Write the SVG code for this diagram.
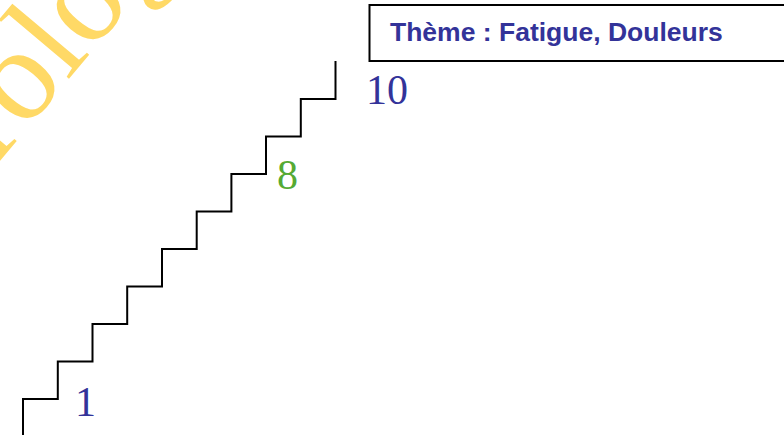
<svg xmlns="http://www.w3.org/2000/svg" width="784" height="435" viewBox="0 0 784 435">
  <style>
    .num { font-family: "Liberation Serif", "Times New Roman", serif; font-size: 42px; }
    .blue { fill: #333399; }
    .green { fill: #55AA33; }
    .title { font-family: "Liberation Sans", Arial, sans-serif; font-weight: bold; font-size: 26.5px; fill: #333399; }
    .stair { fill: none; stroke: #000; stroke-width: 2; }
    .mark { font-family: "Liberation Serif", "Times New Roman", serif; font-size: 132px; fill: #FFD966; }
  </style>
  <rect width="784" height="435" fill="#fff"/>

  <!-- diagonal watermark -->
  <text class="mark" x="-178" y="373" transform="rotate(-50 -178 373)">Sophrologie</text>

  <!-- title box, open on the right -->
  <g id="title">
    <rect x="369.5" y="5" width="430" height="56" fill="#fff" stroke="#000" stroke-width="2"/>
    <text class="title" x="390" y="41">Thème : Fatigue, Douleurs</text>
  </g>

  <!-- staircase -->
  <g id="stairs">
    <path class="stair" d="M23 435 V399 H57.8 V361.5 H92.5 V324 H127.2 V286.5 H162 V249 H196.7 V211.5 H231.4 V174 H266 V136.5 H300.8 V99 H335.5 V61"/>
  </g>

  <!-- level labels -->
  <g id="level-1"><text class="num blue" x="75" y="416">1</text></g>
  <g id="level-8"><text class="num green" x="277" y="189">8</text></g>
  <g id="level-10"><text class="num blue" x="366" y="104">10</text></g>
</svg>
